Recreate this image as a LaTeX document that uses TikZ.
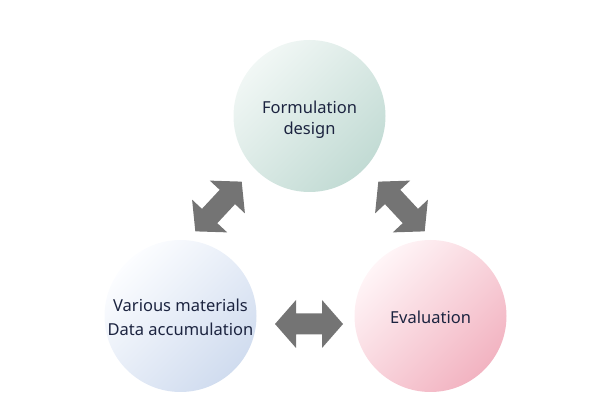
\documentclass[tikz,border=0pt]{standalone}
\usepackage{fontspec}
\setmainfont{Noto Sans}
\definecolor{txt}{HTML}{1C2440}
\definecolor{agray}{HTML}{747474}
\definecolor{gA}{HTML}{F1F7F5}
\definecolor{gB}{HTML}{C2DBD4}
\definecolor{bA}{HTML}{FCFDFF}
\definecolor{bB}{HTML}{D0DCEF}
\definecolor{pA}{HTML}{FFF5F7}
\definecolor{pB}{HTML}{F2B3C1}
\tikzset{
  bubble/.style={circle, minimum size=152pt, inner sep=0pt},
  diag/.style={shading angle=45},
  lbl/.style={align=center, text=txt, inner sep=0pt},
  dblarrow/.pic={\fill[agray] (-34,0) -- (-13,24) -- (-13,10.5) -- (13,10.5) -- (13,24)
     -- (34,0) -- (13,-24) -- (13,-10.5) -- (-13,-10.5) -- (-13,-24) -- cycle;}
}
\begin{document}
\begin{tikzpicture}[x=1pt,y=1pt]
\useasboundingbox (0,0) rectangle (595,418);
\node[bubble, top color=gA, bottom color=gB, diag] (form) at (309.5,302) {};
\node[bubble, top color=bA, bottom color=bB, diag] (mat) at (180.5,102) {};
\node[bubble, top color=pA, bottom color=pB, diag] (eval) at (430.5,102) {};
\node[lbl, font=\fontsize{16.5}{21}\selectfont, yshift=-4pt] (formt) at (form.center) {Formulation\\design};
\node[lbl, font=\fontsize{16.5}{24}\selectfont, yshift=-1pt] (matt) at (mat.center) {Various materials\\Data accumulation};
\node[lbl, font=\fontsize{16.5}{21}\selectfont, yshift=-1pt] (evalt) at (eval.center) {Evaluation};
\coordinate (a1) at (218.5,211.5);
\coordinate (a2) at (401.5,211.5);
\coordinate (a3) at (309,94);
\pic[rotate=47] at (a1) {dblarrow};
\pic[rotate=-47] at (a2) {dblarrow};
\pic at (a3) {dblarrow};
\end{tikzpicture}
\end{document}
